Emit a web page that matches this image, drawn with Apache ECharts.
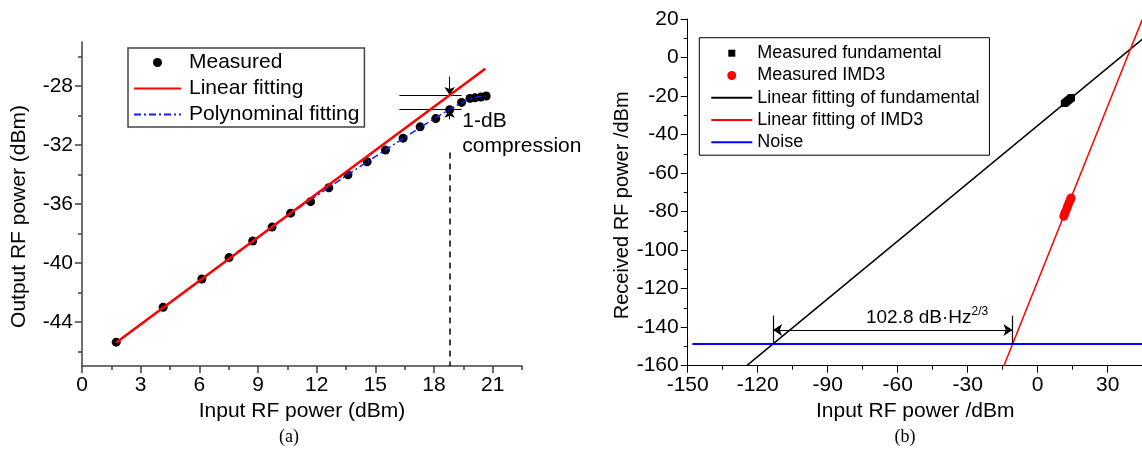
<!DOCTYPE html>
<html>
<head>
<meta charset="utf-8">
<script src="https://cdn.jsdelivr.net/npm/echarts@6/dist/echarts.min.js"></script>
<style>
  html, body { margin: 0; padding: 0; background: #fff; }
  #chart { width: 1142px; height: 449px; }
</style>
</head>
<body>
<div id="chart"></div>
<script>
// ---------- (a) output vs. input RF power, 1-dB compression ----------
const measuredInA  = [1.75, 4.15, 6.13, 7.52, 8.73, 9.72, 10.67, 11.69, 12.62, 13.6, 14.58, 15.52, 16.42, 17.29, 18.09, 18.8, 19.41, 19.84, 20.1, 20.4, 20.67];
const measuredOutA = [-45.38, -43.01, -41.09, -39.64, -38.51, -37.57, -36.62, -35.84, -34.9, -34.02, -33.13, -32.34, -31.53, -30.76, -30.2, -29.6, -29.1, -28.83, -28.79, -28.74, -28.67];
const linearFitX = [1.75, 20.62];
const linearFitY = [-45.4, -26.82];
const polyFitX = [1.75, 3, 4.15, 5, 6.13, 7.52, 8.73, 9.72, 10.67, 11.69, 12.62, 13.6, 14.58, 15.52, 16.42, 17.29, 18.09, 18.8, 19.41, 19.84, 20.2, 20.67];
const polyFitY = [-45.38, -44.2, -43.03, -42.2, -41.1, -39.68, -38.52, -37.56, -36.65, -35.72, -34.88, -34.0, -33.14, -32.33, -31.55, -30.8, -30.14, -29.58, -29.13, -28.86, -28.74, -28.66];
// 1-dB compression point markers
const p1dBIn = 18.8;
const p1dBLinearOut = -28.6;
const p1dBMeasuredOut = -29.6;
const guideX = [16.23, 19.41];
const arrowFromY = [-27.35, -30.25];
const dropLineTopY = -32.5;
const compressionLabelPos = [19.45, -31.2];

const ticksAx = [0, 3, 6, 9, 12, 15, 18, 21];
const minorAx = [1.5, 4.5, 7.5, 10.5, 13.5, 16.5, 19.5, 22.5];
const ticksAy = [-44, -40, -36, -32, -28];
const minorAy = [-46, -42, -38, -34, -30, -26];

// ---------- (b) two-tone test: fundamental, IMD3 and noise floor ----------
const fundIn  = [11.4, 11.8, 12.2, 12.6, 13.0, 13.4, 13.8, 14.2, 14.5];
const fundOut = [-23.9, -23.5, -23.1, -22.7, -22.3, -21.9, -21.5, -21.1, -20.8];
const imdIn  = [11.2, 11.6, 12.1, 12.6, 13.0, 13.5, 14.0, 14.3];
const imdOut = [-82.4, -81.0, -79.6, -78.0, -76.6, -75.2, -73.8, -72.9];
const fundFitX = [-124.7, 45];
const fundFitY = [-160, 9.7];
const imdFitX = [-14.5, 44.9];
const imdFitY = [-160, 20];
const noiseX = [-148, 45];
const noiseY = [-148.7, -148.7];
// SFDR span between the two noise-floor crossings
const sfdrLeftX = -113.4;
const sfdrRightX = -10.8;
const sfdrTickTopY = -134;
const sfdrArrowY = -141.5;
const sfdrLabelPos = [-47.4, -135.2];

const ticksBx = [-150, -120, -90, -60, -30, 0, 30];
const minorBx = [-135, -105, -75, -45, -15, 15, 45];
const ticksBy = [-160, -140, -120, -100, -80, -60, -40, -20, 0, 20];
const minorBy = [-150, -130, -110, -90, -70, -50, -30, -10, 10];

const SANS = '"Liberation Sans", Arial, sans-serif';
const pairs = (xs, ys) => xs.map((x, i) => [x, ys[i]]);

function mainAxis(dim, grid, min, max, ticks, color, width, name, nameGap, extra) {
  return Object.assign({
    type: 'value', gridIndex: grid, min: min, max: max,
    position: dim === 'x' ? 'bottom' : 'left',
    name: name, nameLocation: 'middle', nameGap: nameGap,
    nameTextStyle: { fontFamily: SANS, fontSize: 21, color: '#000' },
    axisLine: { show: true, onZero: false, lineStyle: { color: color, width: width } },
    axisTick: { show: true, inside: false, length: 7, customValues: ticks, lineStyle: { color: color, width: width } },
    axisLabel: { show: true, customValues: ticks, margin: 9, fontFamily: SANS, fontSize: 21, color: '#000' },
    splitLine: { show: false }
  }, extra || {});
}
function minorAxis(dim, grid, min, max, ticks, color, width) {
  return {
    type: 'value', gridIndex: grid, min: min, max: max,
    position: dim === 'x' ? 'bottom' : 'left',
    axisLine: { show: false, onZero: false },
    axisTick: { show: true, inside: false, length: 4, customValues: ticks, lineStyle: { color: color, width: width } },
    axisLabel: { show: false, customValues: ticks },
    splitLine: { show: false }
  };
}

const option = {
  animation: false,
  backgroundColor: '#fff',
  grid: [
    { left: 82, top: 42, width: 440, height: 324, containLabel: false, outerBoundsMode: 'none' },
    { left: 687.7, top: 19, width: 455, height: 346.7, containLabel: false, outerBoundsMode: 'none' }
  ],
  xAxis: [
    mainAxis('x', 0, 0, 22.5, ticksAx, '#404040', 1.5, 'Input RF power (dBm)', 31),
    minorAxis('x', 0, 0, 22.5, minorAx, '#404040', 1.5),
    mainAxis('x', 1, -150, 45, ticksBx, '#000', 1, 'Input RF power /dBm', 33),
    minorAxis('x', 1, -150, 45, minorBx, '#000', 1)
  ],
  yAxis: [
    mainAxis('y', 0, -47, -25, ticksAy, '#404040', 1.5, 'Output RF power (dBm)', 52,
      { nameTextStyle: { fontFamily: SANS, fontSize: 21, color: '#000', padding: [0, 25, 0, 0] } }),
    minorAxis('y', 0, -47, -25, minorAy, '#404040', 1.5),
    mainAxis('y', 1, -160, 20, ticksBy, '#000', 1, 'Received RF power /dBm', 54,
      { nameTextStyle: { fontFamily: SANS, fontSize: 20, color: '#000', padding: [0, 26, 0, 0] } }),
    minorAxis('y', 1, -160, 20, minorBy, '#000', 1)
  ],
  legend: [
    {
      orient: 'vertical', left: 128, top: 48, selectedMode: false,
      itemWidth: 47, itemHeight: 9, itemGap: 5, padding: [4, 5, 2, 5],
      borderColor: '#444', borderWidth: 1.5,
      textStyle: { fontFamily: SANS, fontSize: 21, lineHeight: 21, color: '#000', padding: [0, 0, 0, 3] },
      data: [
        { name: 'Measured', icon: 'circle' },
        { name: 'Linear fitting', itemStyle: { opacity: 0 } },
        { name: 'Polynominal fitting', itemStyle: { opacity: 0 } }
      ]
    },
    {
      orient: 'vertical', left: 699.3, top: 37.7, selectedMode: false,
      itemWidth: 41, itemHeight: 9, itemGap: 4.25, padding: [6.5, 10, 4, 11],
      borderColor: '#000', borderWidth: 1,
      textStyle: { fontFamily: SANS, fontSize: 18, lineHeight: 18, color: '#000' },
      data: [
        { name: 'Measured fundamental', icon: 'path://M0,0M9,9M1,1L8,1L8,8L1,8Z' },
        { name: 'Measured IMD3', icon: 'circle' },
        { name: 'Linear fitting of fundamental', itemStyle: { opacity: 0 } },
        { name: 'Linear fitting of IMD3', itemStyle: { opacity: 0 } },
        { name: 'Noise', itemStyle: { opacity: 0 } }
      ]
    }
  ],
  series: [
    // ---- panel (a)
    {
      name: 'Measured', type: 'scatter', xAxisIndex: 0, yAxisIndex: 0,
      data: pairs(measuredInA, measuredOutA),
      symbol: 'circle', symbolSize: 9, itemStyle: { color: '#000', opacity: 1 }, z: 3, silent: true
    },
    {
      name: 'Polynominal fitting', type: 'line', xAxisIndex: 0, yAxisIndex: 0,
      data: pairs(polyFitX, polyFitY), symbol: 'none', showSymbol: false,
      lineStyle: { color: '#1a1aff', width: 1.5, type: [7, 3, 2, 3] },
      itemStyle: { color: '#1a1aff' }, z: 4, silent: true
    },
    {
      name: 'Linear fitting', type: 'line', xAxisIndex: 0, yAxisIndex: 0,
      data: pairs(linearFitX, linearFitY), symbol: 'none', showSymbol: false,
      lineStyle: { color: '#ff0000', width: 2.5 }, itemStyle: { color: '#ff0000' }, z: 5, silent: true,
      markLine: {
        silent: true, symbol: ['none', 'none'], symbolSize: 8,
        label: { show: false }, emphasis: { disabled: true },
        lineStyle: { color: '#000', width: 1, type: 'solid' },
        data: [
          [{ coord: [guideX[0], p1dBLinearOut] }, { coord: [guideX[1], p1dBLinearOut] }],
          [{ coord: [guideX[0], p1dBMeasuredOut] }, { coord: [guideX[1], p1dBMeasuredOut] }],
          [{ coord: [p1dBIn, arrowFromY[0]] }, { coord: [p1dBIn, p1dBLinearOut], symbol: 'arrow' }],
          [{ coord: [p1dBIn, arrowFromY[1]] }, { coord: [p1dBIn, p1dBMeasuredOut], symbol: 'arrow' }],
          [{ coord: [p1dBIn, dropLineTopY], lineStyle: { type: [6, 5], width: 1.5, color: '#000' } },
           { coord: [p1dBIn, -47] }]
        ]
      },
      markPoint: {
        silent: true, symbol: 'circle', symbolSize: 0, itemStyle: { color: 'rgba(0,0,0,0)' },
        label: { show: true, position: 'right', distance: 0, formatter: '1-dB\ncompression',
                 fontFamily: SANS, fontSize: 21, lineHeight: 25, color: '#000', align: 'left' },
        data: [{ coord: compressionLabelPos }]
      }
    },
    // ---- panel (b)
    {
      name: 'Measured fundamental', type: 'scatter', xAxisIndex: 2, yAxisIndex: 2,
      data: pairs(fundIn, fundOut), symbol: 'rect', symbolSize: 7,
      itemStyle: { color: '#000', opacity: 1 }, z: 4, silent: true
    },
    {
      name: 'Measured IMD3', type: 'scatter', xAxisIndex: 2, yAxisIndex: 2,
      data: pairs(imdIn, imdOut), symbol: 'circle', symbolSize: 9,
      itemStyle: { color: '#ff0000', opacity: 1 }, z: 4, silent: true
    },
    {
      name: 'Linear fitting of fundamental', type: 'line', xAxisIndex: 2, yAxisIndex: 2,
      data: pairs(fundFitX, fundFitY), symbol: 'none', showSymbol: false,
      lineStyle: { color: '#000', width: 1.5 }, itemStyle: { color: '#000' }, z: 3, silent: true
    },
    {
      name: 'Linear fitting of IMD3', type: 'line', xAxisIndex: 2, yAxisIndex: 2,
      data: pairs(imdFitX, imdFitY), symbol: 'none', showSymbol: false,
      lineStyle: { color: '#ff0000', width: 1.5 }, itemStyle: { color: '#ff0000' }, z: 3, silent: true
    },
    {
      name: 'Noise', type: 'line', xAxisIndex: 2, yAxisIndex: 2,
      data: pairs(noiseX, noiseY), symbol: 'none', showSymbol: false,
      lineStyle: { color: '#0000ff', width: 2 }, itemStyle: { color: '#0000ff' }, z: 3, silent: true,
      markLine: {
        silent: true, symbol: ['none', 'none'], symbolSize: 9,
        label: { show: false }, emphasis: { disabled: true },
        lineStyle: { color: '#000', width: 1.2, type: 'solid' },
        data: [
          [{ coord: [sfdrLeftX, noiseY[0]] }, { coord: [sfdrLeftX, sfdrTickTopY] }],
          [{ coord: [sfdrRightX, noiseY[0]] }, { coord: [sfdrRightX, sfdrTickTopY] }],
          [{ coord: [sfdrLeftX, sfdrArrowY], symbol: 'arrow' }, { coord: [sfdrRightX, sfdrArrowY], symbol: 'arrow' }]
        ]
      },
      markPoint: {
        silent: true, symbol: 'circle', symbolSize: 0, itemStyle: { color: 'rgba(0,0,0,0)' },
        label: {
          show: true, position: 'inside', color: '#000',
          formatter: '{m|102.8 dB\u00b7Hz}{s|2/3}',
          rich: {
            m: { fontFamily: SANS, fontSize: 19, lineHeight: 24, color: '#000' },
            s: { fontFamily: SANS, fontSize: 12, lineHeight: 12, color: '#000', verticalAlign: 'top' }
          }
        },
        data: [{ coord: sfdrLabelPos }]
      }
    }
  ],
  graphic: [
    { type: 'text', x: 289, y: 437, silent: true,
      style: { text: '(a)', fontFamily: '"Liberation Serif", "Times New Roman", serif', fontSize: 18, fill: '#000', align: 'center', verticalAlign: 'middle' } },
    { type: 'text', x: 905, y: 437, silent: true,
      style: { text: '(b)', fontFamily: '"Liberation Serif", "Times New Roman", serif', fontSize: 18, fill: '#000', align: 'center', verticalAlign: 'middle' } }
  ]
};

const chart = echarts.init(document.getElementById('chart'), null, { renderer: 'canvas' });
chart.setOption(option);
</script>
</body>
</html>
